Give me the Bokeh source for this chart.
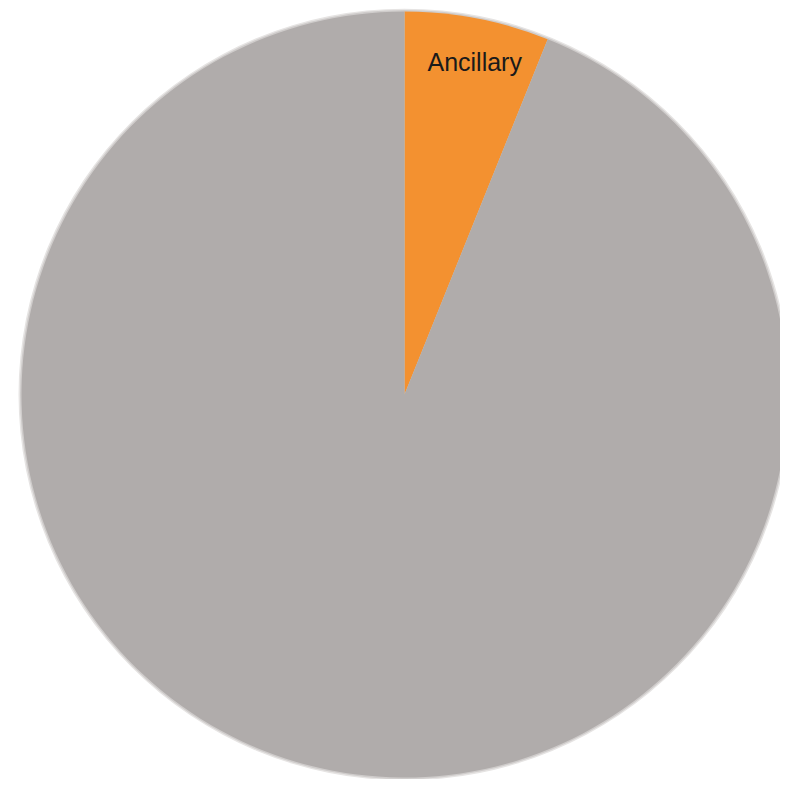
import math
from bokeh.plotting import figure
from bokeh.models import Range1d, ColumnDataSource
from bokeh.core.properties import value
from bokeh.embed import file_html
from bokeh.resources import INLINE

categories = ["Ancillary", "Other"]
shares = [6.1, 93.9]
colors = ["#F39130", "#B0ACAB"]
labels = ["Ancillary", ""]

W, H = 780, 779
cx, cy, R = 404, 385, 383

total = sum(shares)
starts, ends, mids = [], [], []
acc = 0.0
for s in shares:
    a0 = math.pi / 2 - 2 * math.pi * acc / total
    acc += s
    a1 = math.pi / 2 - 2 * math.pi * acc / total
    starts.append(a0)
    ends.append(a1)
    mids.append((a0 + a1) / 2)

src = ColumnDataSource(dict(cat=categories, val=shares, color=colors,
                            start=starts, end=ends))

p = figure(width=W, height=H, output_backend="svg", toolbar_location=None,
           x_range=Range1d(0, W), y_range=Range1d(0, H), min_border=0)
p.axis.visible = False
p.grid.visible = False
p.outline_line_color = None
p.background_fill_color = "white"
p.border_fill_color = "white"

# soft edge
p.circle(x=[cx], y=[cy], radius=R + 3, fill_color="#e6e4e3", line_color=None)
p.circle(x=[cx], y=[cy], radius=R + 1.5, fill_color="#cfcccb", line_color=None)
p.wedge(x=cx, y=cy, radius=R, start_angle="start", end_angle="end",
        direction="clock", fill_color="color", line_color=None, source=src)

lx = [cx + 0.88 * R * math.cos(m) + 6 for m in mids]
ly = [cy + 0.88 * R * math.sin(m) + 2 for m in mids]
lsrc = ColumnDataSource(dict(x=lx, y=ly, t=labels))
p.text(x="x", y="y", text="t", source=lsrc, text_align="center",
       text_baseline="middle", text_font=value("Liberation Sans"),
       text_font_size="25px", text_color="#1a1a1a")

open("out.html", "w").write(file_html(p, INLINE))
